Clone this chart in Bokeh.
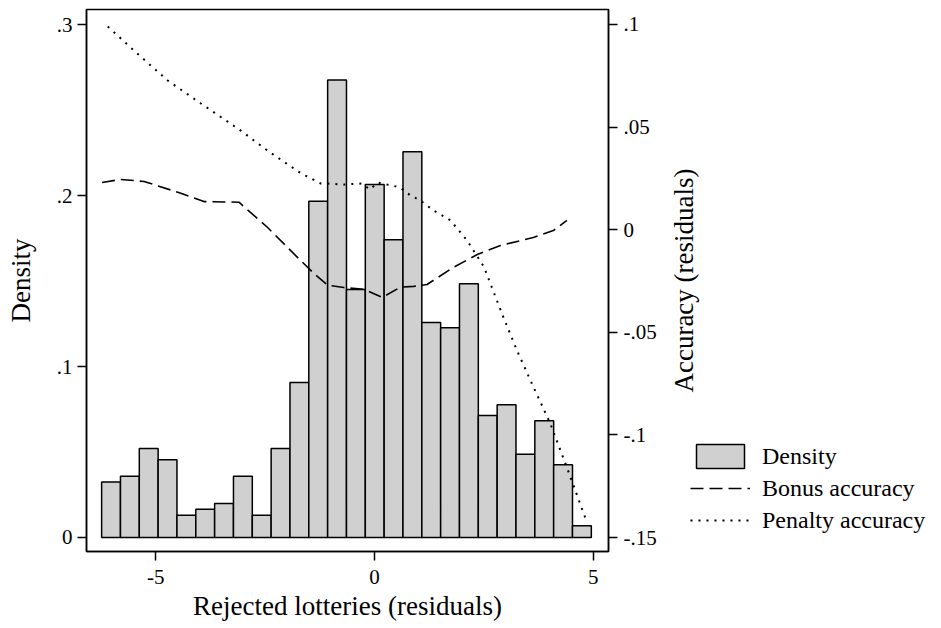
import math
import numpy as np
from bokeh.plotting import figure
from bokeh.layouts import row
from bokeh.models import (Range1d, LinearAxis, Legend, LegendItem, FixedTicker,
                          CustomJSTickFormatter, Label)
from bokeh.embed import file_html
from bokeh.resources import INLINE

# ---------------- data ----------------
bin_start = -6.24
bin_width = 0.4307
density = [0.0325, 0.0358, 0.0520, 0.0454, 0.0130, 0.0165, 0.0199, 0.0358, 0.0130, 0.0520,
           0.0907, 0.1967, 0.2675, 0.1450, 0.2064, 0.1742, 0.2256, 0.1258, 0.1227, 0.1484,
           0.0713, 0.0777, 0.0487, 0.0682, 0.0425, 0.0068]

bonus_x = [-6.23, -5.80, -5.27, -4.43, -3.90, -3.10, -2.45, -1.69, -1.53, -1.39, -1.07,
           -0.70, -0.25, 0.18, 0.59, 0.90, 1.20, 1.80, 2.35, 2.88, 3.63, 4.09, 4.40]
bonus_y = [0.0230, 0.0245, 0.0235, 0.0178, 0.0137, 0.0134, 0.0012, -0.0150, -0.0183, -0.0213,
           -0.0270, -0.0282, -0.0290, -0.0330, -0.0280, -0.0276, -0.0267, -0.0184, -0.0121,
           -0.0077, -0.0038, -0.0004, 0.0045]

penalty_x = [-6.10, -5.50, -4.73, -3.97, -3.06, -2.45, -1.69, -1.23, -1.07, -0.70, -0.30,
             -0.10, 0.07, 0.59, 0.82, 1.05, 1.35, 1.74, 2.12, 2.50, 2.80, 2.95, 3.26, 3.64,
             4.02, 4.40, 4.86]
penalty_y = [0.0990, 0.0873, 0.0727, 0.0615, 0.0483, 0.0386, 0.0276, 0.0225, 0.0225, 0.0220,
             0.0225, 0.0196, 0.0230, 0.0206, 0.0167, 0.0142, 0.0094, 0.0045, -0.0053, -0.0180,
             -0.0345, -0.0428, -0.0589, -0.0769, -0.0944, -0.1159, -0.1427]

x_ticks = [-5, 0, 5]
density_ticks = [0, 0.1, 0.2, 0.3]
accuracy_ticks = [0.1, 0.05, 0, -0.05, -0.1, -0.15]

x_title = "Rejected lotteries (residuals)"
left_title = "Density"
right_title = "Accuracy (residuals)"
legend_labels = ["Density", "Bonus accuracy", "Penalty accuracy"]

# ---------------- styles ----------------
FONT = "Liberation Serif"
TICK_SIZE = "21px"
TITLE_SIZE = "27px"
BAR_FILL = "#d0d0d0"
BONUS_DASH = "13 6"
PENALTY_DASH = "2 6"

FRAME_W, FRAME_H = 522, 542
RIGHT_W = 60          # room for the right axis ticks and labels
SIDE_W = 941 - 86 - FRAME_W - RIGHT_W

# ---------------- main figure ----------------
p = figure(frame_width=FRAME_W, frame_height=FRAME_H, output_backend="svg",
           toolbar_location=None,
           x_range=Range1d(-6.586, 5.351), y_range=Range1d(-0.0082, 0.3088),
           min_border_left=86, min_border_right=RIGHT_W, min_border_top=9,
           min_border_bottom=77)
p.extra_y_ranges = {"acc": Range1d(-0.1568, 0.1073)}
p.xgrid.visible = False
p.ygrid.visible = False
p.outline_line_color = "black"
p.outline_line_width = 1.5
p.background_fill_color = "white"
p.border_fill_color = "white"

fmt_code = """
let s = String(Math.round(tick*1000)/1000);
return s.replace(/^(-?)0\\./, '$1.');
"""

centers = [bin_start + bin_width * (i + 0.5) for i in range(len(density))]
p.vbar(x=centers, top=density, bottom=0, width=bin_width,
       fill_color=BAR_FILL, line_color="black", line_width=1.5)
p.line(bonus_x, bonus_y, y_range_name="acc", line_color="black",
       line_width=1.6, line_dash=BONUS_DASH)
p.line(penalty_x, penalty_y, y_range_name="acc", line_color="black",
       line_width=2.0, line_dash=PENALTY_DASH)

right_axis = LinearAxis(y_range_name="acc")
p.add_layout(right_axis, "right")

p.xaxis[0].ticker = FixedTicker(ticks=x_ticks)
p.yaxis[0].ticker = FixedTicker(ticks=density_ticks)
right_axis.ticker = FixedTicker(ticks=accuracy_ticks)

p.xaxis[0].axis_label = x_title
p.yaxis[0].axis_label = left_title

for ax in [p.xaxis[0], p.yaxis[0], right_axis]:
    ax.formatter = CustomJSTickFormatter(code=fmt_code)
    ax.major_tick_out = 9
    ax.major_tick_in = 0
    ax.minor_tick_out = 0
    ax.minor_tick_in = 0
    ax.major_tick_line_width = 1.5
    ax.axis_line_width = 1.5
    ax.axis_line_color = "black"
    ax.major_tick_line_color = "black"
    ax.major_label_text_font = FONT
    ax.major_label_text_font_size = TICK_SIZE
    ax.major_label_text_color = "black"
    ax.axis_label_text_font = FONT
    ax.axis_label_text_font_size = TITLE_SIZE
    ax.axis_label_text_font_style = "normal"
    ax.axis_label_text_color = "black"

p.yaxis[0].major_label_standoff = 5
p.yaxis[0].axis_label_standoff = 18
p.xaxis[0].major_label_standoff = 9
p.xaxis[0].axis_label_standoff = 4
right_axis.major_label_standoff = 6

# ---------------- side panel: right-axis title and legend ----------------
lf = figure(frame_width=SIDE_W, frame_height=FRAME_H, output_backend="svg",
            toolbar_location=None,
            x_range=Range1d(0, SIDE_W), y_range=Range1d(0, FRAME_H),
            x_axis_type=None, y_axis_type=None,
            min_border_left=0, min_border_right=0, min_border_top=9, min_border_bottom=77)
lf.outline_line_color = None
lf.background_fill_color = "white"
lf.border_fill_color = "white"

lf.add_layout(Label(x=15, y=FRAME_H / 2, text=right_title, angle=math.pi / 2,
                    text_align="center", text_baseline="middle",
                    text_font=FONT, text_font_size=TITLE_SIZE, text_color="black"))

# legend-only renderers: one non-finite datum each, so nothing is drawn in the panel
nan1 = np.array([np.nan])
k_bar = lf.vbar(x=nan1, top=nan1, bottom=nan1, width=10,
                fill_color=BAR_FILL, line_color="black", line_width=1.5)
k_bonus = lf.line([-500, -400], [-500, -400], line_color="black", line_width=1.6,
                  line_dash=BONUS_DASH)
k_pen = lf.line([-500, -400], [-500, -400], line_color="black", line_width=2.0,
                line_dash=PENALTY_DASH)

legend = Legend(items=[LegendItem(label=legend_labels[0], renderers=[k_bar]),
                       LegendItem(label=legend_labels[1], renderers=[k_bonus]),
                       LegendItem(label=legend_labels[2], renderers=[k_pen])],
                location=(22, 16), orientation="vertical",
                glyph_width=60, glyph_height=30, label_standoff=12, spacing=2,
                padding=0, margin=0, border_line_alpha=0, background_fill_alpha=0,
                label_text_font=FONT, label_text_font_size="24px", label_text_color="black")
lf.add_layout(legend, "center")

layout = row(p, lf)
open("out.html", "w").write(file_html(layout, INLINE))
